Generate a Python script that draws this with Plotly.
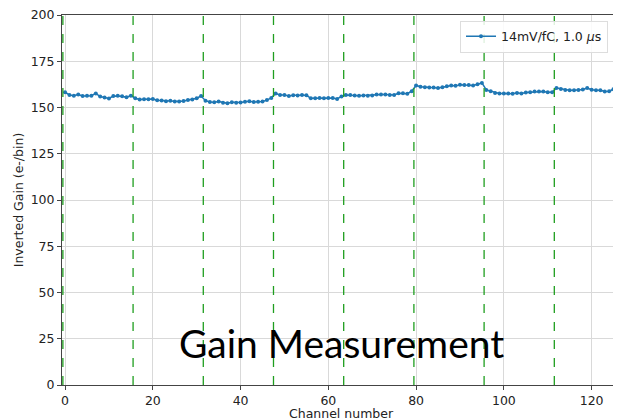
import plotly.graph_objects as go

channels = list(range(128))
gain = [
    # chip 0 (0-15)
    158.2, 156.8, 156.4, 157.0, 156.2, 156.3, 156.4, 157.6, 155.9, 155.4, 154.9, 156.2, 156.3, 156.1, 155.6, 156.4,
    # chip 1 (16-31)
    155.0, 154.3, 154.4, 154.5, 154.6, 153.9, 153.8, 153.4, 153.6, 153.2, 153.3, 153.5, 154.0, 154.3, 155.0, 156.2,
    # chip 2 (32-47)
    153.7, 153.0, 152.8, 153.2, 152.6, 152.3, 152.9, 152.6, 152.7, 153.1, 153.4, 153.0, 153.1, 153.2, 154.0, 155.2,
    # chip 3 (48-63)
    157.6, 156.7, 156.8, 156.2, 156.6, 156.5, 156.7, 156.6, 155.0, 155.0, 155.1, 155.0, 155.2, 155.1, 154.6, 156.0,
    # chip 4 (64-79)
    156.7, 156.8, 156.5, 156.3, 156.5, 156.3, 156.5, 157.0, 157.0, 157.0, 156.8, 156.8, 157.7, 157.7, 157.5, 158.8,
    # chip 5 (80-95)
    161.9, 161.2, 161.0, 160.8, 160.8, 160.6, 161.0, 161.5, 161.9, 161.7, 162.3, 162.1, 162.1, 161.9, 162.6, 163.3,
    # chip 6 (96-111)
    159.5, 158.8, 157.9, 157.6, 157.6, 157.6, 157.4, 157.9, 157.6, 158.1, 158.3, 158.6, 158.6, 158.6, 158.3, 158.2,
    # chip 7 (112-127)
    160.5, 160.0, 159.5, 159.3, 159.3, 159.5, 159.7, 160.5, 159.6, 159.3, 159.3, 158.6, 158.8, 159.9, 159.4, 159.0,
]
chip_boundaries = [-0.5, 15.5, 31.5, 47.5, 63.5, 79.5, 95.5, 111.5]
x_ticks = [0, 20, 40, 60, 80, 100, 120]
y_ticks = [0, 25, 50, 75, 100, 125, 150, 175, 200]

fig = go.Figure()
fig.add_trace(go.Scatter(
    x=channels, y=gain, mode="lines+markers",
    name="14mV/fC, 1.0 <i>μ</i>s",
    line=dict(color="#1f77b4", width=1.5),
    marker=dict(color="#1f77b4", size=4),
))

for b in chip_boundaries:
    fig.add_shape(type="line", xref="x", yref="paper", x0=b, x1=b, y0=0, y1=1,
                  line=dict(color="#1f9e1f", width=1.3, dash="dash"), layer="above")

fig.add_annotation(text="Gain Measurement", xref="paper", yref="paper",
                   x=0.5, y=0.113, xanchor="center", yanchor="middle", showarrow=False,
                   font=dict(family="Lato", size=39, color="black"))

axis_font = dict(family="DejaVu Sans", size=12.5, color="#222")
title_font = dict(family="DejaVu Sans", size=12.5, color="#222")

# x-axis title placed as an annotation just under the tick labels
fig.add_annotation(text="Channel number", xref="paper", yref="paper",
                   x=0.5, y=-0.076, xanchor="center", yanchor="middle", showarrow=False,
                   font=title_font)

# page body has an 8px margin; figure is sized so the plot fills the window like the reference
fig.update_layout(
    width=613, height=412,
    margin=dict(l=54, r=0, t=7, b=35),
    paper_bgcolor="white", plot_bgcolor="white",
    showlegend=True,
    legend=dict(x=0.712, y=0.985, xanchor="left", yanchor="top",
                bgcolor="rgba(255,255,255,0.85)", bordercolor="#dddddd", borderwidth=1,
                font=dict(family="DejaVu Sans", size=12.5, color="#222")),
    xaxis=dict(range=[-0.7, 126.7], tickvals=x_ticks, showgrid=True, gridcolor="#d9d9d9",
               gridwidth=1, zeroline=False, showline=True, linecolor="#444", linewidth=1,
               mirror=True, ticks="outside", ticklen=3.5, tickcolor="#444", tickfont=axis_font,
               automargin=False, ticklabeloverflow="allow"),
    yaxis=dict(range=[0, 200], tickvals=y_ticks, showgrid=True, gridcolor="#d9d9d9",
               gridwidth=1, zeroline=False, showline=True, linecolor="#444", linewidth=1,
               ticks="outside", ticklen=4, tickcolor="#444", tickfont=axis_font,
               automargin=False, ticklabeloverflow="allow",
               title=dict(text="Inverted Gain (e-/bin)", font=title_font, standoff=4)),
)

fig.write_html("out.html")
